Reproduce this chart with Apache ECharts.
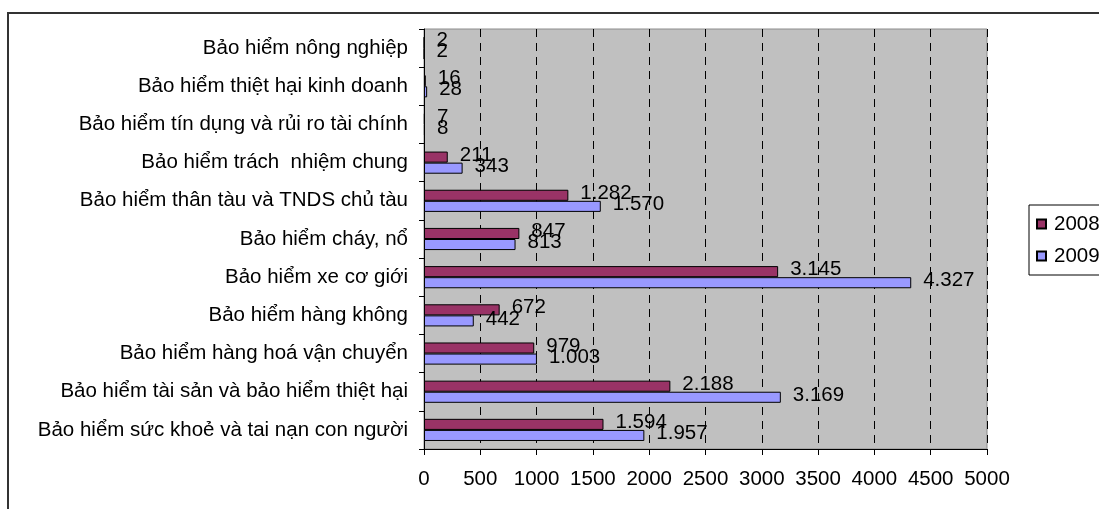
<!DOCTYPE html>
<html>
<head>
<meta charset="utf-8">
<script src="https://cdn.jsdelivr.net/npm/echarts@6/dist/echarts.min.js"></script>
<style>
  html, body { margin: 0; padding: 0; background: #ffffff; }
  #chart { width: 1099px; height: 509px; }
</style>
</head>
<body>
<div id="chart"></div>
<script>
// Insurance lines, listed top to bottom
const categories = [
  'Bảo hiểm nông nghiệp',
  'Bảo hiểm thiệt hại kinh doanh',
  'Bảo hiểm tín dụng và rủi ro tài chính',
  'Bảo hiểm trách  nhiệm chung',
  'Bảo hiểm thân tàu và TNDS chủ tàu',
  'Bảo hiểm cháy, nổ',
  'Bảo hiểm xe cơ giới',
  'Bảo hiểm hàng không',
  'Bảo hiểm hàng hoá vận chuyển',
  'Bảo hiểm tài sản và bảo hiểm thiệt hại',
  'Bảo hiểm sức khoẻ và tai nạn con người'
];
const values2008 = [2, 16, 7, 211, 1282, 847, 3145, 672, 979, 2188, 1594];
const values2009 = [2, 28, 8, 343, 1570, 813, 4327, 442, 1003, 3169, 1957];
const seriesNames = ['2008', '2009'];
const xTicks = [0, 500, 1000, 1500, 2000, 2500, 3000, 3500, 4000, 4500, 5000];

const FONT = '"Liberation Sans", Arial, sans-serif';
const FS = 20.5;

// 1594 -> "1.594"
function fmt(v) {
  return String(v).replace(/\B(?=(\d{3})+(?!\d))/g, '.');
}

const chart = echarts.init(document.getElementById('chart'), null, { renderer: 'canvas' });

const labelCfg = {
  show: true,
  position: 'right',
  distance: 12,
  offset: [0, -2],
  color: '#000',
  fontFamily: FONT,
  fontSize: FS,
  formatter: p => fmt(p.value)
};

chart.setOption({
  animation: false,
  backgroundColor: '#ffffff',
  textStyle: { fontFamily: FONT },
  graphic: [{
    type: 'rect',
    silent: true,
    z: -10,
    shape: { x: 8, y: 13, width: 1300, height: 700 },
    style: { fill: 'none', stroke: '#333333', lineWidth: 2 }
  }],
  legend: {
    orient: 'vertical',
    left: 1029,
    top: 205,
    padding: [8, 30, 8, 7],
    itemGap: 10,
    itemWidth: 9,
    itemHeight: 9,
    borderColor: '#000',
    borderWidth: 1,
    backgroundColor: '#ffffff',
    icon: 'rect',
    data: seriesNames,
    textStyle: { color: '#000', fontFamily: FONT, fontSize: FS, lineHeight: 22, padding: [0, 0, 0, 3] }
  },
  grid: {
    left: 424,
    top: 29,
    right: 112,
    bottom: 60,
    show: true,
    backgroundColor: '#c0c0c0',
    borderColor: '#8c8c8c',
    borderWidth: 1,
    containLabel: false
  },
  xAxis: {
    type: 'value',
    min: xTicks[0],
    max: xTicks[xTicks.length - 1],
    interval: xTicks[1] - xTicks[0],
    axisLine: { show: true, lineStyle: { color: '#000', width: 1 } },
    axisTick: { show: true, length: 6, lineStyle: { color: '#000' } },
    axisLabel: { color: '#000', fontFamily: FONT, fontSize: FS, margin: 20, formatter: v => String(v) },
    splitLine: { show: true, lineStyle: { color: '#000', type: [8, 6], width: 1 } }
  },
  yAxis: {
    type: 'category',
    inverse: true,
    data: categories,
    axisLine: { show: true, lineStyle: { color: '#000', width: 1 } },
    axisTick: { show: true, length: 5, lineStyle: { color: '#000' } },
    axisLabel: { color: '#000', fontFamily: FONT, fontSize: FS, margin: 16 },
    splitLine: { show: false }
  },
  series: [
    {
      name: seriesNames[0],
      type: 'bar',
      data: values2008,
      barGap: '0%',
      barCategoryGap: '42%',
      itemStyle: { color: '#993366', borderColor: '#000', borderWidth: 1 },
      label: labelCfg
    },
    {
      name: seriesNames[1],
      type: 'bar',
      data: values2009,
      barGap: '0%',
      barCategoryGap: '42%',
      itemStyle: { color: '#9999ff', borderColor: '#000', borderWidth: 1 },
      label: labelCfg
    }
  ]
});
</script>
</body>
</html>
